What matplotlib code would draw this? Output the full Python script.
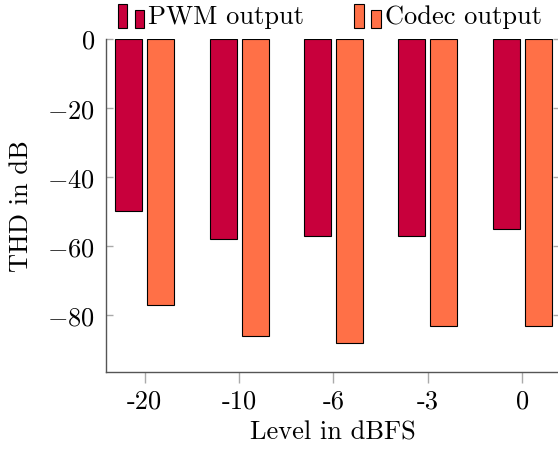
import matplotlib
matplotlib.use("Agg")
import matplotlib.pyplot as plt
import numpy as np
from matplotlib.legend_handler import HandlerBase
from matplotlib.patches import Rectangle
from matplotlib.ticker import FuncFormatter

levels = ["-20", "-10", "-6", "-3", "0"]
pwm_thd = [-50, -58, -57, -57, -55]
codec_thd = [-77, -86, -88, -83, -83]
y_ticks = [0, -20, -40, -60, -80]

RED = "#C8003C"
ORANGE = "#FF7047"

plt.rcParams["font.family"] = ["cmr10", "DejaVu Serif"]
plt.rcParams["mathtext.fontset"] = "cm"
plt.rcParams["axes.unicode_minus"] = False
plt.rcParams["font.size"] = 19


class TwoBarHandler(HandlerBase):
    # pgfplots style ybar legend: two little bars side by side
    def create_artists(self, legend, orig_handle, xdescent, ydescent,
                       width, height, fontsize, trans):
        fc = orig_handle.get_facecolor()
        w = width * 0.36
        h1 = fontsize * 0.92
        h2 = fontsize * 0.7
        y0 = -ydescent - fontsize * 0.2
        r1 = Rectangle((-xdescent, y0), w, h1, facecolor=fc,
                       edgecolor="black", lw=0.8, transform=trans)
        r2 = Rectangle((-xdescent + width - w, y0), w, h2, facecolor=fc,
                       edgecolor="black", lw=0.8, transform=trans)
        return [r1, r2]


fig = plt.figure(figsize=(5.58, 4.52), dpi=100)
ax = fig.add_axes([0.19, 0.174, 0.8136, 0.7386])

x = np.arange(len(levels))
bw = 0.285
off = 0.17
b1 = ax.bar(x - off, pwm_thd, bw, color=RED, edgecolor="black", lw=0.8,
            label="PWM output")
b2 = ax.bar(x + off, codec_thd, bw, color=ORANGE, edgecolor="black", lw=0.8,
            label="Codec output")

ax.set_xlim(-0.41, 4.4)
ax.set_ylim(-96.5, 0)
ax.set_xticks(x)
ax.set_xticklabels(levels)
ax.set_yticks(y_ticks)
ax.yaxis.set_major_formatter(FuncFormatter(lambda v, p: f"${v:g}$"))

for s in ["left", "bottom"]:
    ax.spines[s].set_color("#555555")
    ax.spines[s].set_linewidth(1.0)
# right spine sits just past the cropped edge, only its ticks show
ax.spines["right"].set_visible(False)
ax.spines["top"].set_visible(False)

ax.tick_params(axis="y", direction="in", length=5, color="#aaaaaa",
               width=1.0, pad=8, right=True)
ax.tick_params(axis="x", direction="out", length=8, color="#aaaaaa",
               width=1.0, pad=4)

ax.set_xlabel("Level in dBFS", labelpad=5)
ax.set_ylabel("THD in dB", labelpad=10)

fig.legend([b1[0], b2[0]], ["PWM output", "Codec output"],
           handler_map={b1[0]: TwoBarHandler(), b2[0]: TwoBarHandler()},
           loc="upper left", bbox_to_anchor=(0.192, 1.012), ncol=2,
           frameon=False, handlelength=1.0, handletextpad=0.15,
           columnspacing=1.9, borderaxespad=0)

fig.savefig("out.png", dpi=100)
